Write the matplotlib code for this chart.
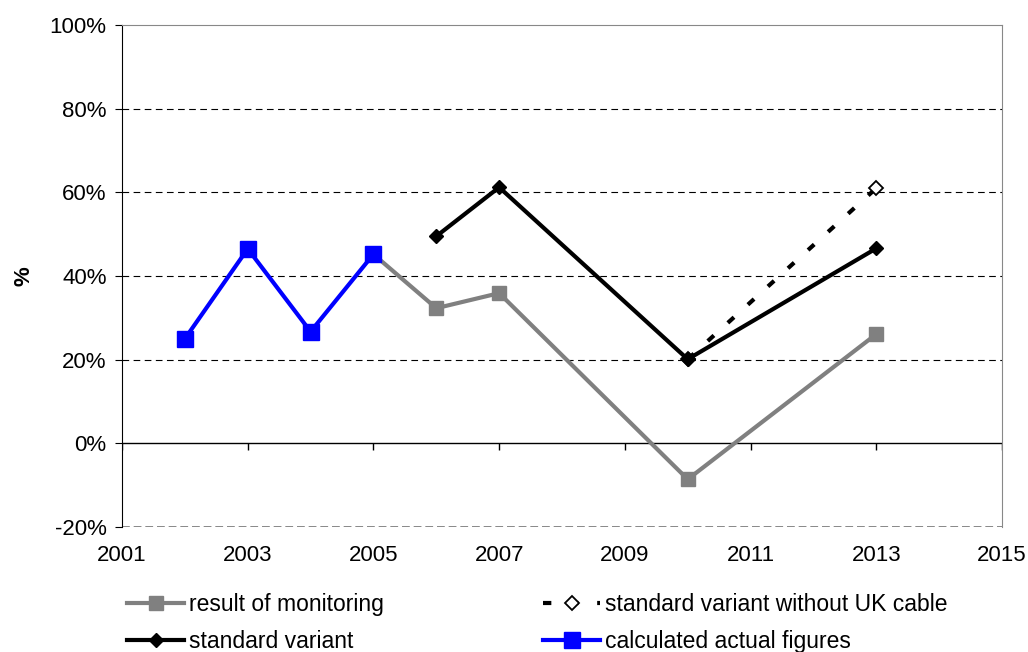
import matplotlib
matplotlib.use("Agg")
import matplotlib.pyplot as plt
from matplotlib.ticker import FuncFormatter

plt.rcParams['font.family'] = ['Liberation Sans', 'DejaVu Sans']

years_actual = [2002, 2003, 2004, 2005]
vals_actual = [25.0, 46.5, 26.7, 45.2]

years_monitor = [2005, 2006, 2007, 2010, 2013]
vals_monitor = [45.2, 32.3, 35.9, -8.6, 26.1]

years_std = [2006, 2007, 2010, 2013]
vals_std = [49.5, 61.2, 20.1, 46.6]

years_noUK = [2010, 2013]
vals_noUK = [20.1, 61.0]

xticks = [2001, 2003, 2005, 2007, 2009, 2011, 2013, 2015]
yticks = [-20, 0, 20, 40, 60, 80, 100]

FS = 16

fig = plt.figure(figsize=(10.28, 6.52), dpi=100)
ax = fig.add_axes([0.1187, 0.1917, 0.8560, 0.7700])
ax.set_xlim(2001, 2015)
ax.set_ylim(-20, 100)

for y in [20, 40, 60, 80]:
    ax.axhline(y, color='black', lw=0.8, dashes=(6, 4), zorder=1)
ax.axhline(0, color='black', lw=1.0, zorder=2)
ax.axhline(-20, color='#888888', lw=1.4, dashes=(4, 2), zorder=2)
ax.vlines(xticks, 0, -1.5, color='black', lw=1.0, zorder=2)

ax.spines['top'].set_color('#888888')
ax.spines['right'].set_color('#888888')
ax.spines['bottom'].set_visible(False)
ax.spines['left'].set_color('black')

l1, = ax.plot(years_monitor, vals_monitor, color='#808080', lw=3, marker='s', ms=10,
              label='result of monitoring', zorder=3)
l3, = ax.plot(years_noUK, vals_noUK, color='black', lw=3, dashes=(2, 4.5), marker='D', ms=7.5,
              mfc='white', mec='black', mew=1.3, label='standard variant without UK cable', zorder=4)
l2, = ax.plot(years_std, vals_std, color='black', lw=3, marker='D', ms=7.5,
              label='standard variant', zorder=5)
l4, = ax.plot(years_actual, vals_actual, color='#0000FF', lw=3, marker='s', ms=12,
              label='calculated actual figures', zorder=6)

ax.set_xticks(xticks)
ax.set_xticklabels([str(x) for x in xticks])
ax.set_yticks(yticks)
ax.yaxis.set_major_formatter(FuncFormatter(lambda v, p: f"{int(v)}%"))
ax.tick_params(axis='x', length=0, pad=13, labelsize=FS)
ax.tick_params(axis='y', length=5, direction='out', labelsize=FS, pad=6)
ax.set_ylabel('%', fontsize=FS, fontweight='bold')
ax.yaxis.set_label_coords(-0.100, 0.5)

leg_kw = dict(loc='center left', frameon=False, fontsize=16.5, handlelength=2.5,
              handletextpad=0.2, labelspacing=0.62, borderaxespad=0, borderpad=0)
leg1 = fig.legend(handles=[l1, l2], bbox_to_anchor=(127 / 1028, 1 - 623 / 652), **leg_kw)
leg2 = fig.legend(handles=[l3, l4], bbox_to_anchor=(543 / 1028, 1 - 623 / 652), **leg_kw)

fig.savefig('out.png', dpi=100)
